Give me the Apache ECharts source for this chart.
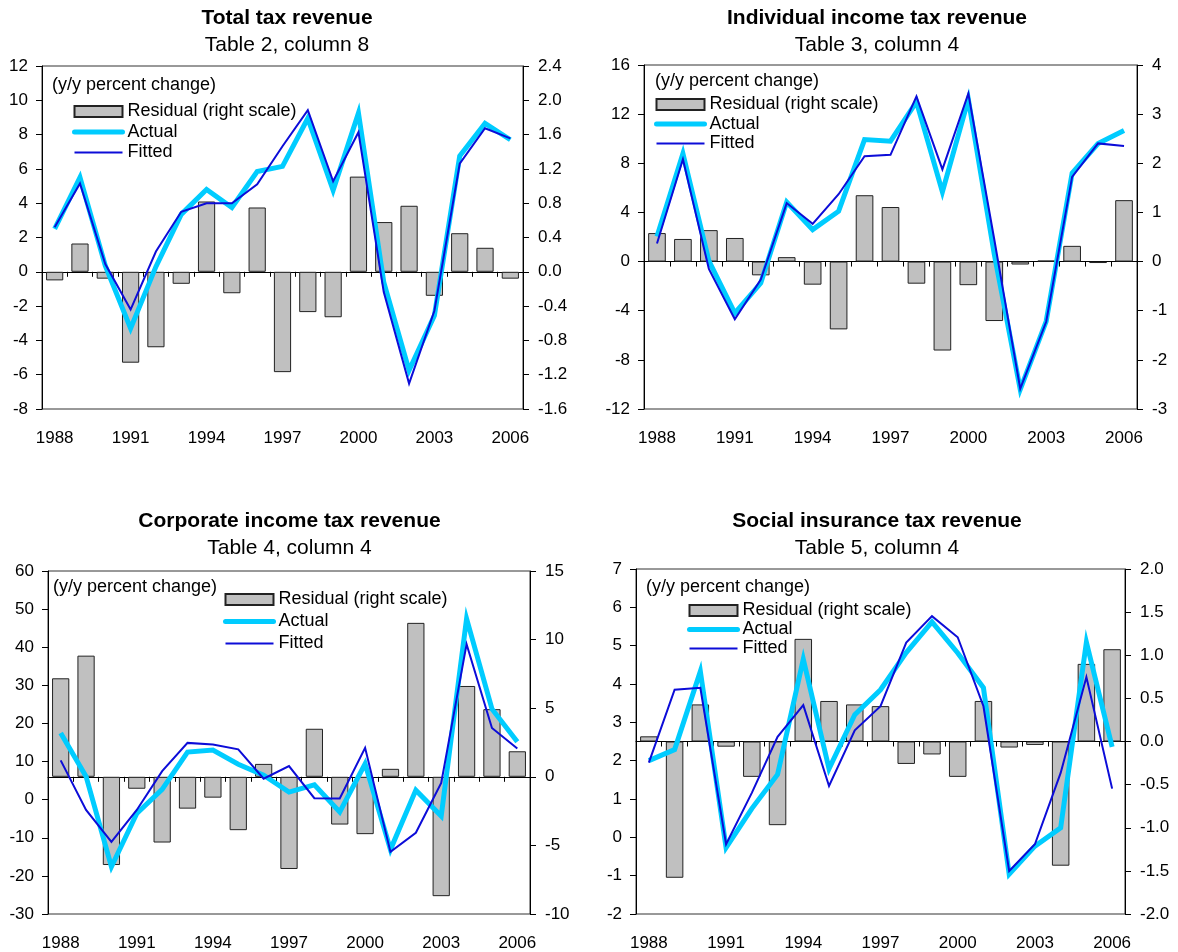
<!DOCTYPE html>
<html>
<head>
<meta charset="utf-8">
<script src="https://cdn.jsdelivr.net/npm/echarts@6/dist/echarts.min.js"></script>
<style>
  html, body { margin: 0; padding: 0; background: #fff; }
  #wrap { position: relative; width: 1178px; height: 952px; }
  .panel { position: absolute; width: 589px; height: 476px; }
</style>
</head>
<body>
<div id="wrap">
  <div class="panel" id="p1" style="left:0;top:0"></div>
  <div class="panel" id="p2" style="left:589px;top:0"></div>
  <div class="panel" id="p3" style="left:0;top:476px"></div>
  <div class="panel" id="p4" style="left:589px;top:476px"></div>
</div>
<script>
// Fiscal years on the category axis
const years = ['1988','1989','1990','1991','1992','1993','1994','1995','1996','1997',
               '1998','1999','2000','2001','2002','2003','2004','2005','2006'];

// Total tax revenue (Table 2, column 8)
const totalResidual = [-0.10, 0.33, -0.08, -1.06, -0.88, -0.14, 0.82, -0.25, 0.75, -1.17,
                       -0.47, -0.53, 1.11, 0.58, 0.77, -0.28, 0.45, 0.28, -0.08];
const totalActual   = [2.5, 5.5, 0.35, -3.3, 0.3, 3.35, 4.8, 3.75, 5.85, 6.15,
                       8.95, 4.75, 9.25, -0.6, -5.75, -2.55, 6.75, 8.65, 7.7];
const totalFitted   = [2.6, 5.15, 0.45, -2.2, 1.18, 3.5, 4.0, 4.0, 5.1, 7.32,
                       9.42, 5.28, 8.14, -1.18, -6.52, -2.27, 6.3, 8.37, 7.78];

// Individual income tax revenue (Table 3, column 4)
const indivResidual = [0.58, 0.46, 0.64, 0.48, -0.28, 0.09, -0.47, -1.38, 1.35, 1.11,
                       -0.45, -1.81, -0.48, -1.21, -0.06, 0.02, 0.32, -0.03, 1.25];
const indivActual   = [2.05, 8.79, 0.05, -4.2, -1.75, 4.85, 2.6, 4.1, 9.93, 9.8,
                       13.0, 5.67, 13.2, 0.6, -10.4, -4.86, 7.2, 9.6, 10.66];
const indivFitted   = [1.47, 8.33, -0.6, -4.7, -1.47, 4.76, 3.07, 5.48, 8.57, 8.69,
                       13.45, 7.5, 13.68, 1.8, -10.35, -4.9, 6.9, 9.62, 9.4];

// Corporate income tax revenue (Table 4, column 4)
const corpResidual = [7.18, 8.83, -6.43, -0.87, -4.79, -2.32, -1.52, -3.89, 0.94, -6.72,
                      3.5, -3.48, -4.18, 0.58, 11.22, -8.7, 6.62, 4.93, 1.86];
const corpActual   = [17.5, 6.1, -17.6, -3.6, 2.7, 12.5, 13.0, 9.3, 6.4, 2.0,
                      3.9, -3.2, 9.4, -13.1, 2.5, -4.3, 47.5, 23.8, 15.2];
const corpFitted   = [10.3, -2.7, -11.1, -2.7, 7.5, 14.9, 14.5, 13.2, 5.5, 8.8,
                      0.4, 0.3, 13.6, -13.7, -8.7, 4.4, 40.8, 18.8, 13.4];

// Social insurance tax revenue (Table 5, column 4)
const socialResidual = [0.06, -1.58, 0.43, -0.06, -0.41, -0.97, 1.19, 0.47, 0.43, 0.41,
                        -0.26, -0.15, -0.41, 0.47, -0.07, -0.04, -1.44, 0.90, 1.07];
const socialActual   = [2.0, 2.29, 4.33, -0.27, 0.75, 1.64, 4.65, 1.79, 3.2, 3.85,
                        4.82, 5.62, 4.81, 3.9, -0.96, -0.23, 0.25, 5.09, 2.36];
const socialFitted   = [1.95, 3.85, 3.9, -0.18, 1.16, 2.62, 3.45, 1.34, 2.79, 3.42,
                        5.08, 5.77, 5.22, 3.42, -0.88, -0.18, 1.68, 4.18, 1.27];

// Axis ranges: left scale for actual/fitted, right scale for residuals
const totalLeftAxis   = { min: -8,  max: 12,  interval: 2 };
const totalRightAxis  = { min: -1.6, max: 2.4, interval: 0.4 };
const indivLeftAxis   = { min: -12, max: 16,  interval: 4 };
const indivRightAxis  = { min: -3,  max: 4,   interval: 1 };
const corpLeftAxis    = { min: -30, max: 60,  interval: 10 };
const corpRightAxis   = { min: -10, max: 15,  interval: 5 };
const socialLeftAxis  = { min: -2,  max: 7,   interval: 1 };
const socialRightAxis = { min: -2,  max: 2,   interval: 0.5 };

const FONT = '"Liberation Sans", Arial, Helvetica, sans-serif';
const NAMES = { resid: 'Residual (right scale)', actual: 'Actual', fitted: 'Fitted' };
const COLORS = { bar: '#c0c0c0', barEdge: '#222', actual: '#00ccff', fitted: '#0c0cd8' };

function valueAxis(side, range, decimals) {
  return {
    type: 'value',
    position: side,
    min: range.min, max: range.max, interval: range.interval,
    axisLine: { show: true, onZero: false, lineStyle: { color: '#000', width: 1 } },
    axisTick: { show: true, inside: false, length: 6, lineStyle: { color: '#000' } },
    axisLabel: {
      fontSize: 17, color: '#000', fontFamily: FONT, margin: side === 'left' ? 14 : 15,
      formatter: v => Number(v).toFixed(decimals)
    },
    splitLine: { show: false }
  };
}

function buildOption(p) {
  return {
    animation: false,
    textStyle: { fontFamily: FONT },
    graphic: [
      { type: 'text', x: p.titleX, y: p.titleY,
        style: { text: p.title, fontSize: 21, fontWeight: 'bold', fontFamily: FONT, fill: '#000',
                 align: 'center', verticalAlign: 'middle' } },
      { type: 'text', x: p.titleX, y: p.titleY + 27,
        style: { text: p.subtitle, fontSize: 21, fontFamily: FONT, fill: '#000',
                 align: 'center', verticalAlign: 'middle' } },
      { type: 'text', x: p.noteX, y: p.noteY,
        style: { text: '(y/y percent change)', fontSize: 18, fontFamily: FONT, fill: '#000',
                 align: 'left', verticalAlign: 'middle' } }
    ],
    legend: {
      orient: 'vertical', left: p.legendX, top: p.legendY, padding: 0,
      itemWidth: 48, itemHeight: 11, itemGap: p.legendGap,
      selectedMode: false,
      textStyle: { fontSize: 18, color: '#000', fontFamily: FONT },
      data: [
        { name: NAMES.resid, icon: 'rect' },
        { name: NAMES.actual, itemStyle: { opacity: 0 },
          lineStyle: { color: COLORS.actual, width: 5, cap: 'round' } },
        { name: NAMES.fitted, itemStyle: { opacity: 0 },
          lineStyle: { color: COLORS.fitted, width: 2 } }
      ]
    },
    grid: {
      left: p.grid[0], top: p.grid[1], width: p.grid[2], height: p.grid[3],
      show: true, borderColor: '#333', borderWidth: 1, backgroundColor: 'transparent'
    },
    xAxis: [
      { type: 'category', data: years, position: 'bottom',
        axisLine: { show: false, onZero: false },
        axisTick: { show: false },
        axisLabel: { interval: 2, fontSize: 17, color: '#000', fontFamily: FONT, margin: 21 },
        splitLine: { show: false } },
      { type: 'category', data: years, position: 'bottom',
        axisLine: { show: true, onZero: true, onZeroAxisIndex: 1, lineStyle: { color: '#000', width: 1 } },
        axisTick: { show: true, interval: 0, length: 5, lineStyle: { color: '#000' } },
        axisLabel: { show: false },
        splitLine: { show: false } }
    ],
    yAxis: [
      valueAxis('left', p.left, p.leftDecimals),
      valueAxis('right', p.right, p.rightDecimals)
    ],
    series: [
      { name: NAMES.resid, type: 'bar', xAxisIndex: 0, yAxisIndex: 1, data: p.resid,
        barWidth: '68%',
        itemStyle: { color: COLORS.bar, borderColor: COLORS.barEdge, borderWidth: 1 } },
      { name: NAMES.actual, type: 'line', xAxisIndex: 0, yAxisIndex: 0, data: p.actual,
        symbol: 'none',
        itemStyle: { color: COLORS.actual },
        lineStyle: { color: COLORS.actual, width: 5, join: 'miter' } },
      { name: NAMES.fitted, type: 'line', xAxisIndex: 0, yAxisIndex: 0, data: p.fitted,
        symbol: 'none',
        itemStyle: { color: COLORS.fitted },
        lineStyle: { color: COLORS.fitted, width: 2, join: 'miter' } }
    ]
  };
}

const panels = [
  { id: 'p1', title: 'Total tax revenue', subtitle: 'Table 2, column 8',
    titleX: 287, titleY: 18, noteX: 52, noteY: 85,
    legendX: 72, legendY: 102.5, legendGap: 2.5,
    grid: [42, 66, 481, 343],
    left: totalLeftAxis, right: totalRightAxis, leftDecimals: 0, rightDecimals: 1,
    resid: totalResidual, actual: totalActual, fitted: totalFitted },
  { id: 'p2', title: 'Individual income tax revenue', subtitle: 'Table 3, column 4',
    titleX: 288, titleY: 18, noteX: 66, noteY: 81,
    legendX: 65, legendY: 95.5, legendGap: 1.5,
    grid: [55, 65, 493, 344],
    left: indivLeftAxis, right: indivRightAxis, leftDecimals: 0, rightDecimals: 0,
    resid: indivResidual, actual: indivActual, fitted: indivFitted },
  { id: 'p3', title: 'Corporate income tax revenue', subtitle: 'Table 4, column 4',
    titleX: 289.5, titleY: 45, noteX: 53, noteY: 111,
    legendX: 223, legendY: 114.5, legendGap: 4,
    grid: [48, 95, 482, 344],
    left: corpLeftAxis, right: corpRightAxis, leftDecimals: 0, rightDecimals: 0,
    resid: corpResidual, actual: corpActual, fitted: corpFitted },
  { id: 'p4', title: 'Social insurance tax revenue', subtitle: 'Table 5, column 4',
    titleX: 288, titleY: 45, noteX: 57, noteY: 111,
    legendX: 98, legendY: 125.5, legendGap: 1,
    grid: [47, 93, 489, 346],
    left: socialLeftAxis, right: socialRightAxis, leftDecimals: 0, rightDecimals: 1,
    resid: socialResidual, actual: socialActual, fitted: socialFitted }
];

panels.forEach(p => {
  const chart = echarts.init(document.getElementById(p.id), null, { renderer: 'canvas' });
  chart.setOption(buildOption(p));
});
</script>
</body>
</html>
